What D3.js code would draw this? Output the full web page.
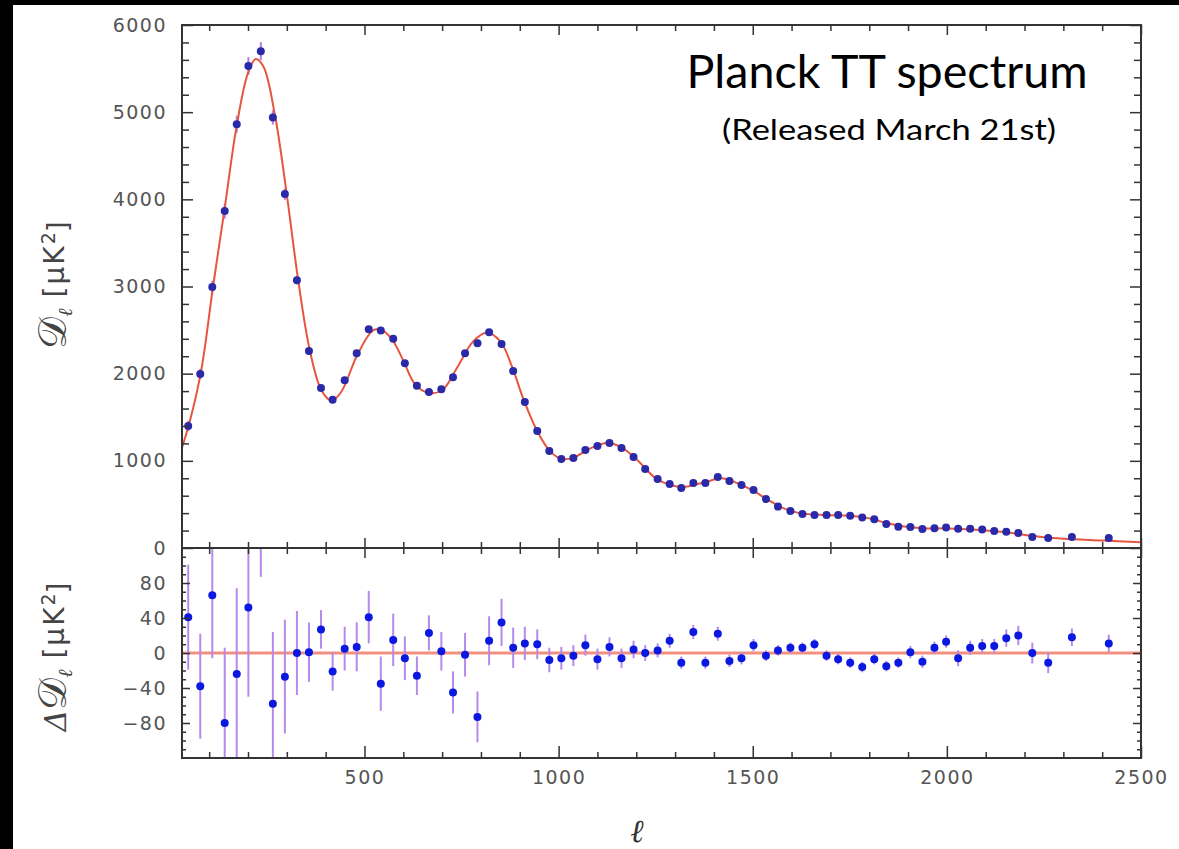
<!DOCTYPE html>
<html>
<head>
<meta charset="utf-8">
<script src="https://cdn.jsdelivr.net/npm/d3@7"></script>
<style>
body { margin: 0; background: #000; }
svg { display: block; }
.tick text { font-family: "DejaVu Sans", sans-serif; font-size: 19px; fill: #555; letter-spacing: 1.5px; }
</style>
</head>
<body>
<svg id="chart"></svg>
<script>
var W = 1179, H = 849;

// binned multipoles
var ell = [46, 77, 108, 140, 171, 201, 233, 264, 295, 326, 357, 388, 418, 449, 480, 511, 542, 574,
	604, 635, 666, 698, 728, 759, 791, 821, 853, 883, 913, 945, 976, 1007, 1038, 1069, 1100, 1131,
	1162, 1193, 1223, 1255, 1286, 1316, 1347, 1378, 1410, 1440, 1471, 1502, 1534, 1565, 1597, 1628,
	1659, 1690, 1720, 1751, 1782, 1813, 1844, 1875, 1906, 1937, 1968, 1998, 2029, 2060, 2091, 2122,
	2153, 2184, 2220, 2261, 2322, 2417];
// D_l values [uK^2]
var dl = [1400, 1995, 2993, 3865, 4862, 5530, 5700, 4940, 4060, 3073, 2260, 1835, 1700, 1925, 2235, 2510, 2495, 2400,
	2120, 1860, 1790, 1820, 1960, 2235, 2350, 2475, 2340, 2030, 1675, 1342, 1112, 1020, 1032, 1124, 1170, 1204,
	1147, 1044, 906, 791, 734, 688, 745, 745, 814, 768, 722, 665, 562, 475, 424, 390,
	380, 378, 378, 370, 349, 330, 275, 245, 240, 219, 228, 236, 220, 220, 213, 195,
	187, 172, 126, 115, 126, 115];
// residuals and errors [uK^2]
var resid = [41, -38, 66, -80, -24, 52, 190, -58, -27, 0, 1, 27, -21, 5, 7, 41, -35, 15,
	-6, -26, 23, 2, -45, -2, -73, 14, 35, 6, 11, 10, -8, -6, -3, 9, -7, 7,
	-6, 4, 0, 3, 14, -11, 24, -11, 22, -9, -6, 9, -3, 3, 6, 6,
	10, -3, -7, -11, -16, -7, -15, -11, 1, -10, 6, 13, -6, 6, 8, 8,
	17, 20, 0, -11, 18, 11];
var err = [60, 60, 72, 86, 98, 102, 103, 82, 65, 48, 34, 22, 22, 25, 28, 30, 31, 30,
	25, 22, 20, 22, 24, 25, 29, 28, 27, 23, 19, 17, 14, 13, 12, 12, 12, 11,
	11, 10, 9, 8, 8, 7, 8, 7, 8, 7, 7, 7, 6, 6, 6, 6,
	6, 6, 6, 6, 6, 6, 6, 6, 7, 7, 7, 7, 9, 8, 8, 8,
	10, 11, 12, 12, 10, 10];

// best-fit model curve
var modelEll = [30, 50, 80, 110, 140, 170, 200, 220, 240, 270, 300, 330, 360, 390, 415, 440, 480, 520, 540,
	570, 600, 630, 665, 700, 740, 780, 815, 850, 880, 910, 945, 980, 1010, 1040, 1080, 1125, 1160, 1200,
	1250, 1290, 1320, 1380, 1420, 1460, 1500, 1540, 1580, 1620, 1680, 1750, 1800, 1850, 1900, 1950, 2000,
	2050, 2100, 2150, 2200, 2250, 2300, 2400, 2500];
var modelDl = [1150, 1450, 2050, 3000, 3900, 4820, 5450, 5610, 5520, 4950, 4050, 3050, 2250, 1800, 1690, 1790, 2200, 2490, 2510,
	2400, 2150, 1880, 1780, 1810, 2080, 2370, 2470, 2370, 2080, 1700, 1340, 1100, 1020, 1040, 1140, 1205, 1160, 1020,
	800, 720, 700, 760, 800, 745, 660, 550, 455, 400, 380, 370, 340, 280, 240, 225, 225,
	215, 200, 180, 150, 122, 105, 85, 65];

var xMajor = [500, 1000, 1500, 2000, 2500];
var topMajor = [0, 1000, 2000, 3000, 4000, 5000, 6000];
var botMajor = [-80, -40, 0, 40, 80];

var svg = d3.select("#chart").attr("width", W).attr("height", H);
svg.append("rect").attr("width", W).attr("height", H).attr("fill", "#000");
svg.append("rect").attr("x", 13).attr("y", 5).attr("width", W - 13).attr("height", H - 5).attr("fill", "#fff");

var L = 182, R = 1141, T = 25, M = 548, B = 758;
var x = d3.scaleLinear().domain([30, 2500]).range([L, R]);
var yTop = d3.scaleLinear().domain([0, 6000]).range([M, T]);
var yBot = d3.scaleLinear().domain([-120, 120]).range([B, M]);

var defs = svg.append("defs");
defs.append("clipPath").attr("id", "clipTop").append("rect")
	.attr("x", L).attr("y", T).attr("width", R - L).attr("height", M - T);
defs.append("clipPath").attr("id", "clipBot").append("rect")
	.attr("x", L).attr("y", M).attr("width", R - L).attr("height", B - M);

var pts = ell.map(function(l, i){ return {l: l, d: dl[i], r: resid[i], e: err[i]}; });

// ---- top panel ----
var gTop = svg.append("g").attr("clip-path", "url(#clipTop)");
gTop.selectAll("line.eb").data(pts).enter().append("line")
	.attr("x1", function(p){ return x(p.l); }).attr("x2", function(p){ return x(p.l); })
	.attr("y1", function(p){ return yTop(p.d - p.e); }).attr("y2", function(p){ return yTop(p.d + p.e); })
	.attr("stroke", "#b07ee6").attr("stroke-width", 2);
var line = d3.line()
	.x(function(d, i){ return x(modelEll[i]); })
	.y(function(d){ return yTop(d); })
	.curve(d3.curveCatmullRom);
gTop.append("path").datum(modelDl).attr("d", line)
	.attr("fill", "none").attr("stroke", "#e8553f").attr("stroke-width", 2);
gTop.selectAll("circle").data(pts).enter().append("circle")
	.attr("cx", function(p){ return x(p.l); })
	.attr("cy", function(p){ return yTop(p.d); })
	.attr("r", 4).attr("fill", "#2a2aa8");

// ---- bottom panel ----
var gBot = svg.append("g").attr("clip-path", "url(#clipBot)");
gBot.append("line").attr("x1", L).attr("x2", R).attr("y1", yBot(0)).attr("y2", yBot(0))
	.attr("stroke", "#f29080").attr("stroke-width", 3);
gBot.selectAll("line.eb").data(pts).enter().append("line")
	.attr("x1", function(p){ return x(p.l); }).attr("x2", function(p){ return x(p.l); })
	.attr("y1", function(p){ return yBot(p.r - p.e); }).attr("y2", function(p){ return yBot(p.r + p.e); })
	.attr("stroke", "#b689ec").attr("stroke-width", 2);
gBot.selectAll("circle").data(pts).enter().append("circle")
	.attr("cx", function(p){ return x(p.l); })
	.attr("cy", function(p){ return yBot(p.r); })
	.attr("r", 4).attr("fill", "#0a18e0");

// ---- axes ----
function styleAxis(g){
	g.selectAll(".domain").remove();
	g.selectAll(".tick line").attr("stroke", "#333").attr("stroke-width", 1.5);
	return g;
}
function drawAxis(axisFn, scale, values, size, tx, ty, labels, pad){
	var a = axisFn(scale).tickValues(values).tickSize(size).tickSizeOuter(0);
	a.tickFormat(labels ? d3.format("d") : "");
	if (pad !== undefined) a.tickPadding(pad);
	var g = svg.append("g").attr("transform", "translate(" + tx + "," + ty + ")").call(a);
	if (labels) g.selectAll(".tick text").text(function(d){ return d < 0 ? "\u2212" + Math.abs(d) : d; });
	return styleAxis(g);
}
var xMinor = d3.range(100, 2500, 100).filter(function(v){ return v % 500 != 0; });
var topMinor = d3.range(0, 6000, 200).filter(function(v){ return v % 1000 != 0; });
var botMinor = d3.range(-110, 120, 10).filter(function(v){ return v % 40 != 0; });

// x ticks: top edge, divider (both sides), bottom edge
drawAxis(d3.axisTop, x, xMinor, -6, 0, T, false);
drawAxis(d3.axisTop, x, xMajor, -10, 0, T, false);
drawAxis(d3.axisBottom, x, xMinor, -6, 0, M, false);
drawAxis(d3.axisBottom, x, xMajor, -10, 0, M, false);
drawAxis(d3.axisTop, x, xMinor, -6, 0, M, false);
drawAxis(d3.axisTop, x, xMajor, -10, 0, M, false);
drawAxis(d3.axisBottom, x, xMinor, -6, 0, B, false);
drawAxis(d3.axisBottom, x, xMajor, -12, 0, B, true, 13);

// y ticks top panel
drawAxis(d3.axisLeft, yTop, topMinor, -7, L, 0, false);
drawAxis(d3.axisLeft, yTop, topMajor, -11, L, 0, true, 15);
drawAxis(d3.axisRight, yTop, topMinor, -7, R, 0, false);
drawAxis(d3.axisRight, yTop, topMajor, -11, R, 0, false);

// y ticks bottom panel
drawAxis(d3.axisLeft, yBot, botMinor, -4, L, 0, false);
drawAxis(d3.axisLeft, yBot, botMajor, -8, L, 0, true, 15);
drawAxis(d3.axisRight, yBot, botMinor, -4, R, 0, false);
drawAxis(d3.axisRight, yBot, botMajor, -8, R, 0, false);

// frames
svg.append("rect").attr("x", L).attr("y", T).attr("width", R - L).attr("height", B - T)
	.attr("fill", "none").attr("stroke", "#333").attr("stroke-width", 2);
svg.append("line").attr("x1", L).attr("x2", R).attr("y1", M).attr("y2", M)
	.attr("stroke", "#333").attr("stroke-width", 2);

// ---- axis titles ----
function yTitle(cx, cy, prefix){
	var t = svg.append("text").attr("transform", "translate(" + cx + "," + cy + ") rotate(-90)")
		.attr("text-anchor", "middle").attr("fill", "#444")
		.style("font-family", "'DejaVu Sans', sans-serif").style("font-size", "28px");
	if (prefix) t.append("tspan").text(prefix).style("font-family", "'DejaVu Serif', serif").style("font-style", "italic").style("font-size", "30px");
	t.append("tspan").text("𝒟").style("font-size", "40px");
	t.append("tspan").text("ℓ").attr("dy", "0.3em").style("font-size", "20px").style("font-family", "'DejaVu Serif', serif").style("font-style", "italic");
	t.append("tspan").text(" [μK").attr("dy", "-0.3em").style("letter-spacing", "2px");
	t.append("tspan").text("2").attr("dy", "-0.45em").style("font-size", "19px");
	t.append("tspan").text("]").attr("dy", "0.45em");
}
yTitle(66, 285, null);
yTitle(66, 657, "Δ");

svg.append("text").attr("x", 637).attr("y", 842).attr("text-anchor", "middle")
	.style("font-family", "'DejaVu Serif', serif").style("font-style", "italic").style("font-size", "32px")
	.attr("fill", "#333").text("ℓ");

// ---- title ----
svg.append("text").attr("x", 887).attr("y", 88).attr("text-anchor", "middle")
	.attr("textLength", 401).attr("lengthAdjust", "spacingAndGlyphs")
	.style("font-family", "Lato, sans-serif").style("font-size", "47px").attr("fill", "#000")
	.text("Planck TT spectrum");
svg.append("text").attr("x", 889).attr("y", 140).attr("text-anchor", "middle")
	.attr("textLength", 334).attr("lengthAdjust", "spacingAndGlyphs")
	.style("font-family", "Lato, sans-serif").style("font-size", "28px").attr("fill", "#000")
	.text("(Released March 21st)");
</script>
</body>
</html>
